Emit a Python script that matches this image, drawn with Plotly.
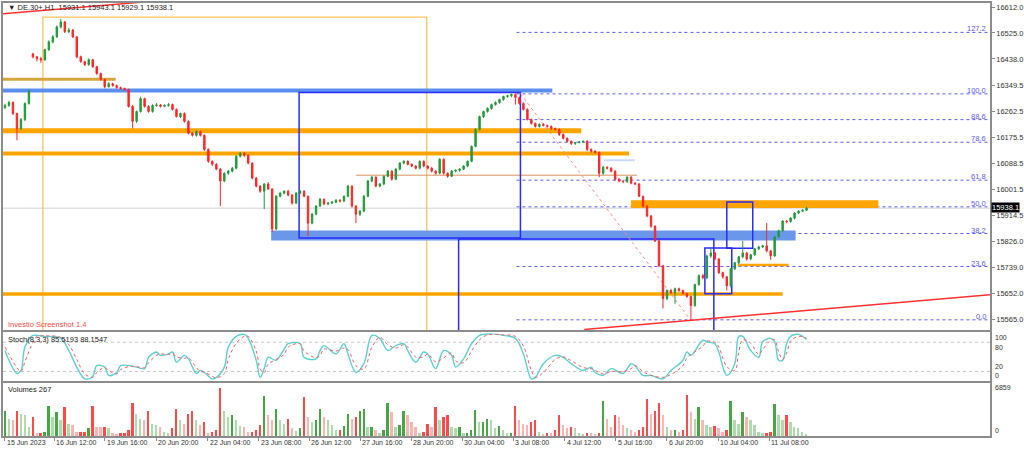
import plotly.graph_objects as go

# ---------------- data (2-hour bars, DE.30+) ----------------
open_ = [16275,16282,16292,16255,16205,16235,16289,16455,16445,16439,
         16435,16469,16495,16512,16545,16562,16529,16535,16512,16445,
         16429,16419,16435,16412,16389,16369,16345,16355,16349,16342,
         16339,16335,16279,16229,16262,16305,16279,16262,16282,16284,
         16279,16282,16285,16269,16245,16255,16229,16189,16182,16195,
         16182,16135,16095,16085,16069,16029,16055,16062,16072,16112,
         16122,16115,16089,16039,16012,15995,16019,16002,15868,15978,
         15988,15995,15982,15955,15988,15995,15978,15888,15918,15945,
         15968,15952,15955,15958,15965,15962,15978,16012,15945,15918,
         15928,15978,16029,16042,16012,16019,16045,16062,16035,16069,
         16089,16095,16085,16079,16072,16095,16079,16072,16062,16055,
         16102,16055,16045,16062,16065,16069,16079,16095,16145,16202,
         16245,16262,16272,16285,16292,16302,16312,16315,16319,16309,
         16289,16269,16235,16222,16212,16219,16215,16212,16205,16202,
         16185,16172,16162,16155,16158,16160,16162,16135,16129,16125,
         16055,16075,16072,16062,16035,16029,16027,16042,16022,16019,
         15978,15945,15912,15878,15828,15745,15635,15662,15655,15668,
         15662,15652,15642,15612,15682,15712,15705,15778,15788,15768,
         15722,15708,15678,15735,15755,15775,15788,15768,15782,15802,
         15808,15812,15795,15778,15842,15862,15895,15893,15905,15922,
         15928,15931]
high = [16288,16298,16296,16258,16240,16292,16334,16458,16448,16445,
        16472,16500,16518,16550,16572,16565,16542,16538,16515,16449,
        16432,16440,16438,16415,16392,16372,16360,16358,16352,16345,
        16342,16338,16284,16265,16312,16308,16283,16286,16290,16287,
        16286,16290,16288,16272,16258,16259,16232,16193,16199,16198,
        16185,16138,16098,16089,16072,16058,16066,16076,16115,16126,
        16125,16118,16092,16042,16015,16022,16025,16005,15982,15992,
        15998,15999,15985,15992,15999,15998,15980,15922,15948,15972,
        15970,15958,15962,15968,15968,15980,16016,16014,15948,15932,
        15982,16032,16046,16044,16022,16048,16066,16065,16072,16092,
        16099,16098,16088,16082,16098,16098,16082,16075,16065,16105,
        16104,16058,16066,16068,16072,16082,16098,16148,16206,16248,
        16265,16276,16288,16296,16305,16315,16318,16322,16322,16312,
        16292,16272,16238,16225,16222,16222,16218,16215,16208,16205,
        16188,16175,16165,16160,16163,16164,16165,16138,16132,16128,
        16080,16078,16075,16065,16038,16032,16045,16045,16025,16022,
        15980,15948,15915,15880,15832,15748,15666,15668,15672,15672,
        15665,15655,15645,15685,15716,15718,15782,15805,15792,15770,
        15725,15711,15738,15758,15778,15828,15792,15785,15805,15812,
        15815,15888,15798,15845,15866,15898,15898,15908,15925,15932,
        15935,15943]
low = [16270,16278,16250,16165,16200,16230,16285,16440,16430,16425,
       16432,16465,16490,16508,16540,16525,16525,16508,16440,16425,
       16414,16415,16408,16385,16365,16340,16342,16345,16338,16335,
       16332,16275,16205,16224,16258,16275,16258,16258,16278,16275,
       16276,16278,16265,16242,16240,16225,16185,16178,16178,16178,
       16130,16090,16080,16065,15945,16025,16050,16058,16068,16108,
       16110,16085,16035,16008,15990,15935,16000,15858,15865,15975,
       15985,15978,15950,15952,15985,15975,15845,15884,15915,15942,
       15948,15948,15952,15955,15958,15958,15975,15940,15888,15912,
       15925,15975,16025,16008,16008,16015,16042,16030,16032,16065,
       16085,16082,16075,16068,16068,16075,16068,16058,16050,16052,
       16050,16040,16042,16058,16060,16066,16075,16092,16142,16198,
       16240,16258,16268,16282,16288,16298,16308,16310,16285,16285,
       16265,16232,16218,16208,16208,16212,16208,16200,16198,16180,
       16168,16158,16150,16150,16155,16156,16130,16124,16120,16042,
       16050,16068,16058,16030,16025,16022,16022,16018,16015,15975,
       15940,15908,15872,15825,15740,15602,15630,15650,15618,15658,
       15648,15638,15564,15608,15678,15700,15700,15772,15764,15718,
       15702,15662,15672,15730,15750,15770,15762,15764,15778,15798,
       15805,15790,15765,15775,15838,15858,15888,15890,15900,15918,
       15925,15929]
close = [16282,16292,16255,16205,16235,16289,16329,16445,16439,16435,
         16469,16495,16512,16545,16562,16529,16535,16512,16445,16429,
         16419,16435,16412,16389,16369,16345,16355,16349,16342,16339,
         16335,16279,16229,16262,16305,16279,16262,16282,16284,16279,
         16282,16285,16269,16245,16255,16229,16189,16182,16195,16182,
         16135,16095,16085,16069,16029,16055,16062,16072,16112,16122,
         16115,16089,16039,16012,15995,16019,16002,15868,15978,15988,
         15995,15982,15955,15988,15995,15978,15888,15918,15945,15968,
         15952,15955,15958,15965,15962,15978,16012,15945,15918,15928,
         15978,16029,16042,16012,16019,16045,16062,16035,16069,16089,
         16095,16085,16079,16072,16095,16079,16072,16062,16055,16102,
         16055,16045,16062,16065,16069,16079,16095,16145,16202,16245,
         16262,16272,16285,16292,16302,16312,16315,16319,16309,16289,
         16269,16235,16222,16212,16219,16215,16212,16205,16202,16185,
         16172,16162,16155,16158,16160,16162,16135,16129,16125,16055,
         16075,16072,16062,16035,16029,16027,16042,16022,16019,15978,
         15945,15912,15878,15828,15745,15635,15662,15655,15668,15662,
         15652,15642,15612,15682,15712,15705,15778,15788,15768,15722,
         15708,15678,15735,15755,15775,15788,15768,15782,15802,15808,
         15812,15795,15778,15842,15862,15895,15893,15905,15922,15928,
         15931,15938.1]
volume = [3588,2438,2208,3588,3128,2898,1288,2668,368,460,
          598,4278,2668,3358,2208,4048,1748,1518,598,598,
          598,1058,4278,1288,1196,1196,1058,368,230,368,
          460,828,4738,3128,2438,2208,3588,1748,1518,1288,
          598,368,1058,3818,2208,1748,3128,3588,2208,1518,
          1978,460,552,828,6859,3588,2668,2898,2208,1380,
          1288,598,598,828,1518,5658,2898,2208,3818,2208,
          1748,2438,1058,736,1058,5520,2668,1978,2208,3818,
          2668,2208,1518,828,828,1380,3128,2438,2668,3588,
          3818,1288,1288,828,460,828,4738,3358,1288,1518,
          3588,2898,1978,1288,460,598,1748,1288,4048,2208,
          2668,2898,1288,1058,1288,368,460,828,3680,1978,
          1978,2438,2300,1058,1380,828,368,368,4278,2208,
          1748,1518,1978,2208,598,276,460,368,828,2898,
          1518,1058,1288,1058,368,230,460,368,276,460,
          4968,2438,1288,2898,2668,1518,1058,828,598,828,
          1288,5198,3128,3588,4738,2898,1288,828,828,598,
          828,5888,3358,2438,4048,2208,1518,1288,1380,1058,
          598,828,4968,2208,1748,3358,2668,2208,1518,598,
          368,368,598,4508,2898,2208,2898,1978,1288,1058,
          598,267]

stoch_bar = [0,1,3,4,5,7,8,10,14,16,18,20,22,23,25,26,28,29,31,33,
             35,36,38,39,41,42,43,45,46,48,49,50,52,53,55,56,58,60,61,63,
             64,65,66,68,70,71,74,75,78,79,80,83,85,86,88,90,92,94,96,98,
             100,101,103,105,106,108,110,112,113,115,117,119,121,125,128,130,132,133,135,138,
             140,142,145,147,148,150,152,155,157,158,160,162,165,167,170,171,172,175,176,178,
             179,181,183,184,185,187,189,190,192,193,194,195,196,197,199,201]
stoch_main = [63,43,16,22,70,94,94,92,88,63,29,5,10,32,29,12,18,32,32,29,
              26,49,60,53,56,60,39,53,46,16,22,18,5,8,29,70,92,96,88,43,
              8,26,49,43,66,77,77,49,46,63,73,56,77,56,18,36,94,88,63,73,
              77,63,39,60,56,26,63,53,29,46,77,94,97,94,88,56,5,8,36,53,
              49,36,22,29,18,12,26,16,36,32,12,12,5,22,43,60,53,84,81,77,
              60,12,36,92,92,63,49,81,88,81,43,43,77,92,96,85.5]
stoch_signal = [70,55,28,20,40,80,92,93,90,75,45,15,8,18,28,22,15,24,30,30,
                28,38,53,56,55,57,50,47,48,28,20,19,10,7,16,45,78,92,92,62,
                25,18,35,45,55,70,77,62,48,53,66,62,68,65,32,25,70,90,75,68,
                75,70,50,50,56,40,48,58,42,38,62,85,95,95,92,72,22,8,18,45,
                50,42,28,26,22,15,20,20,26,32,20,12,8,14,32,48,55,72,82,80,
                70,30,22,60,85,78,55,65,84,85,60,45,58,82,92,88.2]

tick_bars = [0, 12.3, 25.0, 37.9, 50.8, 63.6, 76.3, 89.1, 101.9, 114.6,
             127.5, 140.4, 153.1, 165.9, 178.9, 191.7]
tick_labels = ["15 Jun 2023", "16 Jun 12:00", "19 Jun 16:00", "20 Jun 20:00",
               "22 Jun 04:00", "23 Jun 08:00", "26 Jun 12:00", "27 Jun 16:00",
               "28 Jun 20:00", "30 Jun 04:00", "3 Jul 08:00", "4 Jul 12:00",
               "5 Jul 16:00", "6 Jul 20:00", "10 Jul 04:00", "11 Jul 08:00"]
price_ticks = [16612.0, 16525.0, 16438.0, 16349.5, 16262.5, 16175.5, 16088.5,
               16001.5, 15914.5, 15826.0, 15739.0, 15652.0, 15565.0]
stoch_ticks = [100, 80, 20, 0]
volume_ticks = [6859, 0]
fib_ratios = [0.0, 23.6, 38.2, 50.0, 61.8, 78.6, 88.6, 100.0, 127.2]
fib_low = 15564.0
fib_high = 16321.0
last_price = 15938.1
header = "▼ DE.30+,H1  15931.1 15943.1 15929.1 15938.1"

# ---------------- figure ----------------
FONT = "Liberation Sans, Arial, sans-serif"
X_RANGE = [-0.5, 247.0]
P_RANGE = [15528.3, 16625.4]
V_RANGE = [0, 7530]
bars = list(range(len(close)))

vol_colors = []
for i in range(len(volume)):
    up = close[i] >= open_[i]
    rising = i == 0 or volume[i] >= volume[i - 1]
    if up:
        vol_colors.append("#45a845" if rising else "#addbad")
    else:
        vol_colors.append("#ff4a4a" if rising else "#ffb3b3")

fig = go.Figure()
fig.add_trace(go.Candlestick(
    x=bars, open=open_, high=high, low=low, close=close,
    xaxis="x", yaxis="y",
    increasing=dict(line=dict(color="#1f9a38", width=1), fillcolor="#1f9a38"),
    decreasing=dict(line=dict(color="#ff2626", width=1), fillcolor="#ff2626"),
    whiskerwidth=0, showlegend=False, hoverinfo="skip"))
fig.add_trace(go.Scatter(
    x=stoch_bar, y=stoch_main, xaxis="x2", yaxis="y2", mode="lines",
    line=dict(color="#5cd0d0", width=1.4, shape="spline"), showlegend=False))
fig.add_trace(go.Scatter(
    x=stoch_bar, y=stoch_signal, xaxis="x2", yaxis="y2", mode="lines",
    line=dict(color="#ff5a5a", width=1, dash="dot", shape="spline"), showlegend=False))
fig.add_trace(go.Bar(
    x=bars, y=volume, xaxis="x3", yaxis="y3", width=0.45,
    marker=dict(color=vol_colors, line=dict(width=0)), showlegend=False))

BLUE = "#2a2aff"
ORANGE = "#ffa500"
shapes = []

def hline(y, xa, xb, color, width, dash="solid"):
    shapes.append(dict(type="line", xref="x", yref="y", x0=xa, x1=xb, y0=y, y1=y,
                       line=dict(color=color, width=width, dash=dash), layer="below"))

def rect(xa, xb, ya, yb, line=None, fill=None, width=1.5):
    shapes.append(dict(type="rect", xref="x", yref="y", x0=xa, x1=xb, y0=ya, y1=yb,
                       line=dict(color=line or "rgba(0,0,0,0)", width=width if line else 0),
                       fillcolor=fill or "rgba(0,0,0,0)", layer="below"))

# current price line
hline(last_price, X_RANGE[0], X_RANGE[1], "#d4d4d4", 1)
# fibonacci levels
for r in fib_ratios:
    lv = fib_low + r / 100.0 * (fib_high - fib_low)
    hline(lv, 128.25, X_RANGE[1], "#5c5cff", 1, "dot")
# drawn objects
rect(9.5, 105.75, 15400, 16578, line="#ffc35e", width=1.3)
rect(66.75, 198.25, 15830, 15863.5, fill="#6a97ea")
rect(157, 219, 15938.5, 15965, fill=ORANGE)
hline(16369.6, X_RANGE[0], 27.75, "#d6a53c", 3)
hline(16332, X_RANGE[0], 137.25, "#5b8def", 4)
hline(16197, X_RANGE[0], 144.5, ORANGE, 5)
hline(16121, X_RANGE[0], 156.5, ORANGE, 4)
hline(16048.5, 88, 158.5, "#d9925a", 1)
hline(16098.5, 150.25, 158, "#c9dbf6", 2)
hline(15748, 183.75, 196.5, ORANGE, 2.5)
hline(15650.7, X_RANGE[0], 195, ORANGE, 3.5)
rect(73.75, 129.25, 15838.5, 16325.3, line=BLUE)
rect(113.75, 177.75, 15400, 15835, line=BLUE)
rect(175.5, 182.25, 15651.7, 15805, line=BLUE)
rect(181, 187.5, 15803.4, 15958.5, line=BLUE)
shapes.append(dict(type="line", xref="x", yref="y", x0=129.25, y0=16322, x1=172, y1=15561.7,
                   line=dict(color="#ff8a8a", width=1, dash="dot"), layer="below"))
shapes.append(dict(type="line", xref="x", yref="y", x0=-0.5, y0=16589, x1=34.75, y1=16628.7,
                   line=dict(color="#ff3030", width=1.5)))
shapes.append(dict(type="line", xref="x", yref="y", x0=145.25, y0=15531.7, x1=247, y1=15648.4,
                   line=dict(color="#ff3030", width=1.5)))
# stochastic levels
for lv in (20, 80):
    shapes.append(dict(type="line", xref="x2", yref="y2", x0=X_RANGE[0], x1=X_RANGE[1], y0=lv, y1=lv,
                       line=dict(color="#c8c8c8", width=1, dash="dot"), layer="below"))

ann = []
TXT = "#333333"
ann.append(dict(xref="paper", yref="y domain", x=0, y=0.985, xshift=3, text=header,
                showarrow=False, xanchor="left", yanchor="middle",
                font=dict(family=FONT, size=7.5, color="#222")))
ann.append(dict(xref="paper", yref="y domain", x=0, y=0.018, xshift=3, text="Investio Screenshot 1.4",
                showarrow=False, xanchor="left", yanchor="middle",
                font=dict(family=FONT, size=7.5, color="#ff4a4a")))
ann.append(dict(xref="paper", yref="y2 domain", x=0, y=0.86, xshift=3,
                text="Stoch(8,3,3) 85.5193 88.1547", showarrow=False, xanchor="left",
                yanchor="middle", font=dict(family=FONT, size=7.5, color="#222")))
ann.append(dict(xref="paper", yref="y3 domain", x=0, y=0.88, xshift=3, text="Volumes 267",
                showarrow=False, xanchor="left", yanchor="middle",
                font=dict(family=FONT, size=7.5, color="#222")))
for r in fib_ratios:
    lv = fib_low + r / 100.0 * (fib_high - fib_low)
    ann.append(dict(xref="x", yref="y", x=246.6, y=lv, text=f"{r:.1f}", showarrow=False,
                    xanchor="right", yanchor="bottom", yshift=-3,
                    font=dict(family=FONT, size=7.5, color="#5a5aff")))
for tb, tl in zip(tick_bars, tick_labels):
    ann.append(dict(xref="x3", yref="paper", x=tb, y=0, text=tl, showarrow=False,
                    xanchor="left", yanchor="top", xshift=0, yshift=-1,
                    font=dict(family=FONT, size=7, color=TXT)))
# stochastic / volume scale labels, MT4 style (kept inside each panel)
for v, anc in zip(stoch_ticks, ["top", "top", "bottom", "bottom"]):
    ann.append(dict(xref="paper", yref="y2", x=1, y=v, text=str(v), showarrow=False,
                    xanchor="left", yanchor=anc, xshift=3, yshift=0,
                    font=dict(family=FONT, size=7, color=TXT)))
for v, anc in zip(volume_ticks, ["middle", "bottom"]):
    ann.append(dict(xref="paper", yref="y3", x=1, y=v, text=str(v), showarrow=False,
                    xanchor="left", yanchor=anc, xshift=3, yshift=0,
                    font=dict(family=FONT, size=7, color=TXT)))
ann.append(dict(xref="paper", yref="y", x=1, y=last_price, text="15938.1", showarrow=False,
                xanchor="left", yanchor="middle", xshift=1, yshift=1, bgcolor="#000000",
                borderpad=0, font=dict(family=FONT, size=7.5, color="#ffffff")))

axis_common = dict(showline=True, mirror=True, linecolor="#8c8c8c", linewidth=1.5,
                   showgrid=False, zeroline=False)

fig.update_layout(
    width=1024, height=449,
    margin=dict(l=1, r=34, t=1, b=13),
    paper_bgcolor="white", plot_bgcolor="white",
    font=dict(family=FONT, size=7.5, color=TXT),
    showlegend=False, bargap=0, boxgap=0.5,
    shapes=shapes, annotations=ann,
    xaxis=dict(domain=[0, 1], anchor="y", range=X_RANGE, showticklabels=False,
               rangeslider=dict(visible=False), **axis_common),
    xaxis2=dict(domain=[0, 1], anchor="y2", matches="x", showticklabels=False, **axis_common),
    xaxis3=dict(domain=[0, 1], anchor="y3", matches="x", showticklabels=False,
                ticks="outside", ticklen=3, tickcolor="#8c8c8c", tickvals=tick_bars, **axis_common),
    yaxis=dict(domain=[0.2437, 1.0], anchor="x", side="right", range=P_RANGE,
               tickvals=price_ticks, tickformat=".1f", ticks="outside", ticklen=3,
               tickcolor="#8c8c8c", tickfont=dict(family=FONT, size=7.5, color=TXT), **axis_common),
    yaxis2=dict(domain=[0.1264, 0.2391], anchor="x2", side="right", range=[0, 100],
                showticklabels=False, ticks="", **axis_common),
    yaxis3=dict(domain=[0, 0.1218], anchor="x3", side="right", range=V_RANGE,
                showticklabels=False, ticks="", **axis_common),
)

fig.write_html("out.html", config={"displayModeBar": False},
               post_script="document.body.style.margin='0';")
